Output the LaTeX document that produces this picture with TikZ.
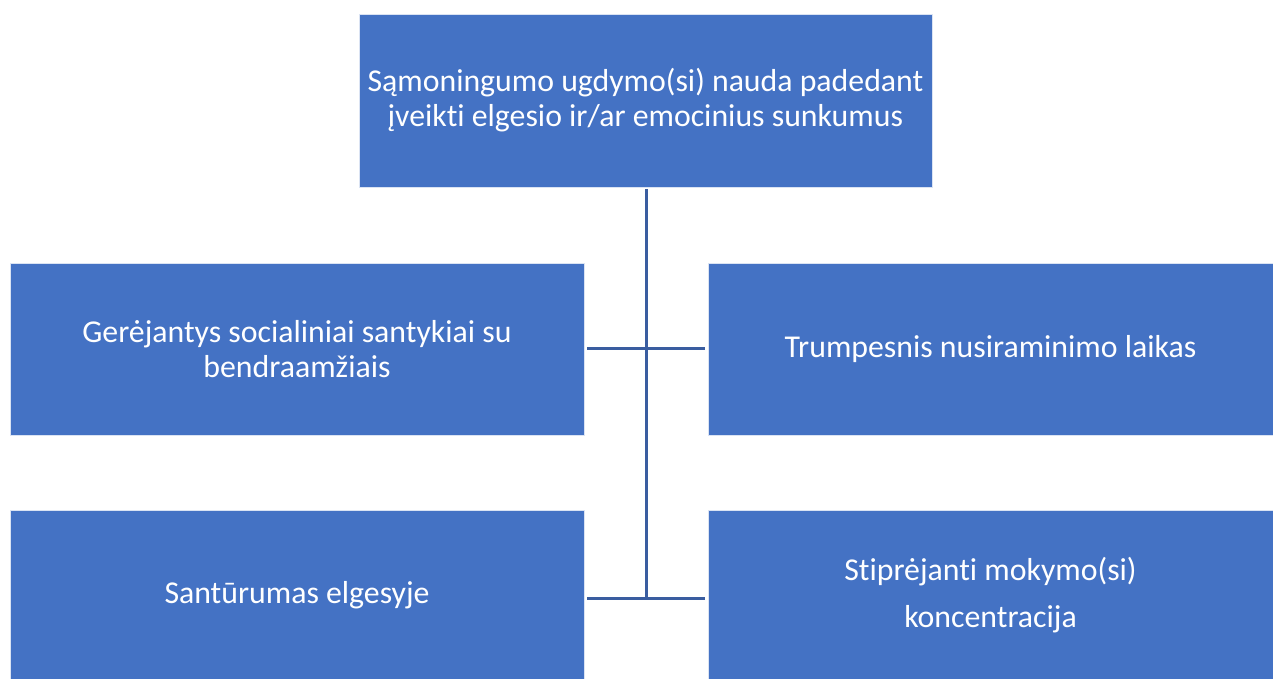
\documentclass[tikz,border=0pt]{standalone}
\usepackage{fontspec}
\setmainfont{Carlito}[Ligatures=NoCommon]
\definecolor{boxblue}{HTML}{4472C4}
\definecolor{linkblue}{HTML}{3A5DA0}
\begin{document}
\begin{tikzpicture}[x=1pt,y=1pt,
  box/.style={fill=boxblue,draw=white!80!boxblue,line width=0.8pt,text=white,align=center,
    font=\fontsize{31.8}{35}\selectfont,inner sep=0pt},
  link/.style={draw=linkblue,line width=3pt}]
\useasboundingbox (0,0) rectangle (1273,678);
\fill[white] (0,0) rectangle (1273,678);
\node[box,minimum width=573pt,minimum height=173pt] (top) at (645.5,577.5)
  {Sąmoningumo ugdymo(si) nauda padedant\\įveikti elgesio ir/ar emocinius sunkumus};
\node[box,minimum width=574pt,minimum height=172pt] (l1) at (297,329)
  {Gerėjantys socialiniai santykiai su\\bendraamžiais};
\node[box,minimum width=565pt,minimum height=172pt] (r1) at (990.5,329)
  {Trumpesnis nusiraminimo laikas};
\node[box,minimum width=574pt,minimum height=170pt] (l2) at (297,83)
  {Santūrumas elgesyje};
\node[box,minimum width=565pt,minimum height=170pt,font=\fontsize{31.8}{47}\selectfont] (r2) at (990.5,83)
  {Stiprėjanti mokymo(si)\\koncentracija};
\coordinate (j1) at (646,329);
\coordinate (j2) at (646,80);
\coordinate (a1) at (587,329);
\coordinate (b1) at (705,329);
\coordinate (a2) at (587,80);
\coordinate (b2) at (705,80);
\coordinate (t0) at (646,489);
\draw[link] (t0) -- (j2);
\draw[link] (a1) -- (b1);
\draw[link] (a2) -- (b2);
\end{tikzpicture}
\end{document}
